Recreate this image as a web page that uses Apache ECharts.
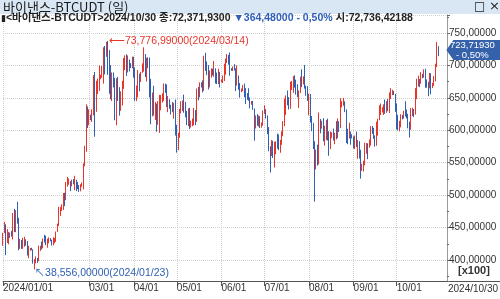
<!DOCTYPE html>
<html>
<head>
<meta charset="utf-8">
<script src="https://cdn.jsdelivr.net/npm/echarts@6/dist/echarts.min.js"></script>
<style>
html,body{margin:0;padding:0;background:#fff;}
#main{width:500px;height:299px;}
</style>
</head>
<body>
<div id="main"></div>
<script>
// 바이낸스 BTCUDT 일봉, 2024/01/01 ~ 2024/10/30 (월별로 한 줄)
var opens = [
  42283,44179,44946,42845,44151,44162,43974,43929,46951,46110,46632,46339,42782,42847,41732,42511,43137,42776,41262,41618,41665,41545,39507,39845,40077,39933,41816,42120,42035,43300,42946,
  42582,43082,43200,43011,42582,42708,43098,44349,45288,47132,47751,48299,49917,49699,51795,51880,52124,51643,52137,51780,52259,51848,51304,50731,51566,51728,54476,57037,62432,
  61130,62387,61987,63113,68245,63724,66074,66823,68124,68313,68955,72078,71452,73072,71388,69499,65300,68393,67609,61937,67840,65501,63796,64037,67211,69880,69988,69455,70744,69893,69645,
  71333,69702,65709,65970,68487,67820,68896,69360,71620,69146,70631,70006,67117,63924,65662,63420,63793,61277,63471,63819,64941,64960,66837,66408,64277,64499,63770,63462,63119,63866,
  60672,58364,59060,62882,63892,64013,63165,62313,61194,63074,60799,60826,61451,62901,61552,66205,65231,67051,66940,66278,71446,70136,69122,67929,68526,69265,68518,69394,68296,67578,68364,
  67491,67706,67751,68804,70567,71082,70757,69342,69305,69647,69512,67321,68243,66756,66012,66191,66636,66490,65140,64960,64828,64096,64252,63180,60277,61804,60864,61706,60427,60986,
  62772,62900,62135,60209,57050,56662,58239,55857,56715,58052,57725,57339,57889,59204,60798,64724,65043,64087,63987,66660,67139,68166,67532,65936,65372,65777,67912,67813,68255,66819,66201,
  64619,65357,61415,60680,58116,53991,56034,55027,61710,60880,60945,58712,59346,60587,58683,57541,58874,59491,58427,59438,59013,61157,60381,64094,64178,64220,62834,59415,59034,59359,59119,
  58973,57301,59132,57487,57970,56160,53962,54160,54869,57042,57635,57338,58132,60498,59993,59132,58213,60309,61759,62947,63201,63348,63578,63339,64262,63152,65173,65769,65858,65602,
  63327,60805,60649,60752,62086,62058,62819,62224,62131,60582,60275,62445,63193,62851,66047,67041,67612,67399,68418,68362,69001,67367,67362,66653,68161,66642,67014,67929,69907,72736.42188
];
var closes = [
  44179,44946,42845,44151,44162,43974,43929,46951,46110,46632,46339,42782,42847,41732,42511,43137,42776,41262,41618,41665,41545,39507,39845,40077,39933,41816,42120,42035,43300,42946,42582,
  43082,43200,43011,42582,42708,43098,44349,45288,47132,47751,48299,49917,49699,51795,51880,52124,51643,52137,51780,52259,51848,51304,50731,51566,51728,54476,57037,62432,61130,
  62387,61987,63113,68245,63724,66074,66823,68124,68313,68955,72078,71452,73072,71388,69499,65300,68393,67609,61937,67840,65501,63796,64037,67211,69880,69988,69455,70744,69893,69645,71333,
  69702,65709,65970,68487,67820,68896,69360,71620,69146,70631,70006,67117,63924,65662,63420,63793,61277,63471,63819,64941,64960,66837,66408,64277,64499,63770,63462,63119,63866,60672,
  58364,59060,62882,63892,64013,63165,62313,61194,63074,60799,60826,61451,62901,61552,66205,65231,67051,66940,66278,71446,70136,69122,67929,68526,69265,68518,69394,68296,67578,68364,67491,
  67706,67751,68804,70567,71082,70757,69342,69305,69647,69512,67321,68243,66756,66012,66191,66636,66490,65140,64960,64828,64096,64252,63180,60277,61804,60864,61706,60427,60986,62772,
  62900,62135,60209,57050,56662,58239,55857,56715,58052,57725,57339,57889,59204,60798,64724,65043,64087,63987,66660,67139,68166,67532,65936,65372,65777,67912,67813,68255,66819,66201,64619,
  65357,61415,60680,58116,53991,56034,55027,61710,60880,60945,58712,59346,60587,58683,57541,58874,59491,58427,59438,59013,61157,60381,64094,64178,64220,62834,59415,59034,59359,59119,58973,
  57301,59132,57487,57970,56160,53962,54160,54869,57042,57635,57338,58132,60498,59993,59132,58213,60309,61759,62947,63201,63348,63578,63339,64262,63152,65173,65769,65858,65602,63327,
  60805,60649,60752,62086,62058,62819,62224,62131,60582,60275,62445,63193,62851,66047,67041,67612,67399,68418,68362,69001,67367,67362,66653,68161,66642,67014,67929,69907,72736.41,72371.93
];
var lows = [
  42180,44148,40750,42630,42420,43400,43600,43176,44300,44300,45606,41500,41720,41720,41718,42050,42200,40683,40280,41446,41500,39431,38556,39484,39550,39823,41394,41620,41804,42683,42276,
  41884,42565,42880,42222,42258,42574,42788,44331,45242,46800,47557,47710,48300,49225,51314,51594,50625,51345,51682,50760,50625,50926,50500,50585,51279,50901,54450,56690,60364,
  60777,61561,61300,62300,59005,62848,65603,66082,67861,68094,67194,68620,71333,68555,65630,64780,64526,66611,61555,60775,64529,62261,63000,63812,66385,69280,68381,68920,69076,69601,69562,
  68110,64550,64493,65064,66011,67447,68856,69043,68210,67518,69571,65086,60919,62134,62274,61600,59768,60833,59600,63090,64278,64500,65770,63589,62794,63322,62424,62793,61793,59191,
  56552,56937,58848,62599,62955,62700,62000,60800,60648,60187,60420,60632,60749,60800,61300,64600,65100,66600,65857,66060,69162,68500,66300,66622,68128,68456,68250,67200,67120,67129,66600,
  67386,67300,67600,68564,70383,70119,68420,69168,69131,69222,66051,66900,66251,65056,65870,66034,65104,64060,64690,64559,63379,63943,63150,58402,60270,60712,60585,60360,60400,60712,
  62497,61800,59400,56771,53485,56018,55724,54260,56289,57157,56950,56542,57756,59084,60632,62373,63854,63210,63300,66222,65777,66573,65500,65111,63456,65750,66650,67066,66428,65324,64532,
  62302,61200,59850,57122,49000,53962,54558,54730,59535,60250,58286,57642,58476,58433,56078,57098,58785,58418,57862,58610,58783,59724,60342,63531,63775,62800,58034,57860,58756,57768,58744,
  57201,57120,57415,55606,55643,52550,53745,53653,54591,56386,55545,57311,57632,59449,58696,57493,57610,59174,61555,62350,62758,62357,62538,62700,62947,62670,64819,65422,65432,62860,
  60164,59981,59828,60460,61675,61800,62128,61824,60300,58895,60077,62193,62044,62425,64800,66750,66666,67177,68010,68100,66563,66571,65260,66459,65537,66500,66839,67540,69730,71436
];
var highs = [
  44184,45879,45500,44770,44339,44227,44500,47248,47893,47695,48969,46500,43257,43079,43400,43578,43198,42930,42195,41850,41881,41650,40129,40555,40300,42225,42200,42842,43305,43882,43745,
  43285,43494,43381,43119,43494,43399,44396,45614,48200,48160,48592,50334,50368,52043,52816,52574,52160,52400,52485,52985,52366,52020,51549,51684,51950,54910,57588,64000,63676,
  63230,62433,63230,68499,69000,67637,67985,69990,68541,69907,72800,73000,73650,73776.99,72357,70043,68918,68920,68100,68029,68240,66650,65999,67622,71150,71561,71727,71546,70913,70355,71366,
  71342,69675,66914,69291,68725,69000,70327,72797,71758,71172,71256,71227,67931,65839,66867,64365,64118,64500,65450,65446,65700,67232,67199,67075,65297,64789,63923,64362,64227,64734,
  60860,59625,63320,64494,64610,65500,64400,62986,63400,63460,61490,61818,63450,63120,66444,66700,67400,67400,67700,71515,71956,70625,70041,69220,69562,69500,70687,69560,68900,69500,69000,
  67857,68444,70274,71063,71758,71625,71997,69582,69850,70195,69560,69999,68449,67294,66450,66989,67188,66500,65742,66482,65066,64525,64523,63369,62300,62480,62293,62190,61197,63058,
  63862,63289,62285,60498,57546,58475,58390,58236,58296,59470,59359,58526,59850,61420,64900,65388,66128,65117,67487,67613,68373,68480,67813,67102,66151,68264,69399,68318,70079,66900,66810,
  65659,65596,62198,61117,58305,57040,57800,62745,61744,61470,61858,60720,61578,61800,59848,59815,59700,60262,59617,61400,61814,61400,64955,64491,65000,64481,63212,60234,61166,59820,59400,
  59062,59200,59809,58519,58327,56995,54850,55300,58088,58044,57991,58588,60625,60660,60381,59210,61320,61786,63850,64133,63559,64000,64745,64480,64817,65839,66498,66260,66076,65619,
  64130,62392,61470,62484,62370,63000,64478,63200,62543,61321,63418,63480,63283,66500,67950,68424,67918,68969,68693,69400,69500,67836,67470,68850,68800,67307,68350,70270,73620,72961
];
// x축 눈금 표시 날짜
var tickDates = ['2024/01/01','2024/03/01','2024/04/01','2024/05/01','2024/06/01','2024/07/01','2024/08/01','2024/09/01','2024/10/01'];
var yMin = 36760, yMax = 77780;   // 화면 범위
var bandLow = 51100;               // 우측 파란 막대 하단

var UP = '#e8352c', DOWN = '#2f60b3';
var FONT = 'Liberation Sans, Noto Sans CJK KR';

function pad(n){ return n < 10 ? '0' + n : '' + n; }
var dates = [];
var t0 = Date.UTC(2024, 0, 1);
for (var i = 0; i < closes.length; i++) {
  var d = new Date(t0 + i * 86400000);
  dates.push(d.getUTCFullYear() + '/' + pad(d.getUTCMonth() + 1) + '/' + pad(d.getUTCDate()));
}
var candles = [];
for (var i = 0; i < closes.length; i++) candles.push([opens[i], closes[i], lows[i], highs[i]]);

// 소수점도 쉼표로 표시
function fmtDec(v, n){ return v.toFixed(n).replace('.', ','); }
function fmtFull(v, n){
  var s = v.toFixed(n).split('.');
  return s[0].replace(/\B(?=(\d{3})+(?!\d))/g, ',') + ',' + s[1];
}

var n = closes.length;
var last = closes[n - 1], prev = closes[n - 2];
var chg = last - prev, pct = chg / prev * 100;
var hiIdx = 0, loIdx = 0;
for (var i = 1; i < n; i++) {
  if (highs[i] > highs[hiIdx]) hiIdx = i;
  if (lows[i] < lows[loIdx]) loIdx = i;
}
function isTick(idx, val){ return tickDates.indexOf(val) >= 0; }

var chart = echarts.init(document.getElementById('main'));
chart.setOption({
  animation: false,
  textStyle: { fontFamily: FONT },
  title: [
    { text: '바이낸스-BTCUDT (일)', left: 3, top: 0, padding: 0,
      textStyle: { fontSize: 13, fontWeight: 'normal', color: '#1b1b1b', fontFamily: 'Noto Sans CJK KR', lineHeight: 14 } },
    { text: '{k|▮}{b|<바이낸스-BTCUDT>' + dates[n - 1] + ' 종:' + fmtFull(last, 4) + ' }' +
            '{u|' + (chg < 0 ? '▼' : '▲') + fmtDec(Math.abs(chg), 5) + ' ' + (chg < 0 ? '- ' : '+ ') + fmtDec(Math.abs(pct), 2) + '%}' +
            '{b| 시:' + fmtFull(opens[n - 1], 5) + '}',
      left: 1, top: 13, padding: 0,
      textStyle: { rich: {
        k: { fontSize: 9, color: '#222', fontFamily: 'DejaVu Sans' },
        b: { fontSize: 10.5, color: '#222', fontFamily: FONT },
        u: { fontSize: 10.5, color: '#2f5fb8', fontFamily: FONT }
      } } }
  ],
  graphic: [
    { type: 'rect', shape: { x: 0, y: 0, width: 500, height: 14 }, style: { fill: '#d9e6f4' }, z: -10 },
    { type: 'text', x: 474, y: 1, style: { text: '□', fontSize: 12, fill: '#222', fontFamily: 'DejaVu Sans' } },
    { type: 'text', x: 489, y: 0, style: { text: '×', fontSize: 13, fill: '#222', fontFamily: 'DejaVu Sans' } },
    { type: 'text', x: 458, y: 265, style: { text: '[x100]', fontSize: 11, fontWeight: 'bold', fill: '#333', fontFamily: 'Liberation Sans' } },
    { type: 'text', x: 498, y: 284, style: { text: dates[n - 1], fontSize: 10, fill: '#333', align: 'right', fontFamily: 'Liberation Sans' } },
    { type: 'line', shape: { x1: 447, y1: 281.5, x2: 500, y2: 281.5 }, style: { stroke: '#555', lineWidth: 1 } }
  ],
  grid: { left: -2, right: 53, top: 15, bottom: 18 },
  xAxis: {
    type: 'category', data: dates, boundaryGap: false, max: 309,
    axisLine: { lineStyle: { color: '#555' } },
    axisTick: { show: true, interval: isTick, length: 5, lineStyle: { color: '#555' } },
    axisLabel: { interval: isTick, align: 'left', margin: 2, fontSize: 10, color: '#333',
      formatter: function (v, idx) { return idx === 0 ? v : v.slice(5); } },
    splitLine: { show: true, interval: isTick, lineStyle: { color: '#cfcfcf', type: 'dotted' } }
  },
  yAxis: {
    type: 'value', position: 'right', min: yMin, max: yMax, splitNumber: 8,
    axisLine: { show: true, lineStyle: { color: '#9a9a9a' } },
    axisTick: { show: true, length: 3, lineStyle: { color: '#666' } },
    minorTick: { show: true, splitNumber: 2, length: 2, lineStyle: { color: '#666' } },
    axisLabel: { margin: 2, fontSize: 10, color: '#333', showMinLabel: false, showMaxLabel: false,
      formatter: function (v) { return fmtDec(v / 100, 5); } },
    splitLine: { show: true, lineStyle: { color: '#cfcfcf', type: 'dotted' } }
  },
  series: [{
    type: 'candlestick',
    data: candles,
    barWidth: 0.6,
    itemStyle: { color: UP, color0: DOWN, borderColor: UP, borderColor0: DOWN, borderWidth: 1 },
    markPoint: {
      silent: true,
      data: [
        { coord: [dates[hiIdx], highs[hiIdx]], symbol: 'circle', symbolSize: 0,
          label: { show: true, position: 'right', distance: 1, color: UP, fontSize: 10.5,
            formatter: '⟵' + fmtFull(highs[hiIdx], 5) + '(' + dates[hiIdx] + ')' } },
        { coord: [dates[loIdx], lows[loIdx]], symbol: 'circle', symbolSize: 0,
          label: { show: true, position: 'right', distance: 0, offset: [0, 4], color: DOWN, fontSize: 10.5,
            formatter: '↖' + fmtFull(lows[loIdx], 5) + '(' + dates[loIdx] + ')' } },
        { coord: [dates[n - 1], last], symbol: 'path://M0,10L7,0L54,0L54,20L7,20Z',
          symbolSize: [54, 20], symbolOffset: [35, 0], symbolKeepAspect: false,
          itemStyle: { color: '#3561ab' },
          label: { show: true, position: 'inside', offset: [-1, 0], color: '#fff', fontSize: 9.5, lineHeight: 10,
            formatter: fmtDec(last / 100, 5) + '\n' + (chg < 0 ? '- ' : '+ ') + fmtDec(Math.abs(pct), 2) + '%' } }
      ]
    },
    markLine: {
      silent: true, symbol: ['none', 'none'], label: { show: false },
      data: [
        [{ coord: [309, yMax], lineStyle: { color: UP, width: 2.5, type: 'solid' } }, { coord: [309, last] }],
        [{ coord: [309, last], lineStyle: { color: DOWN, width: 2.5, type: 'solid' } }, { coord: [309, bandLow] }]
      ]
    }
  }]
});
</script>
</body>
</html>
